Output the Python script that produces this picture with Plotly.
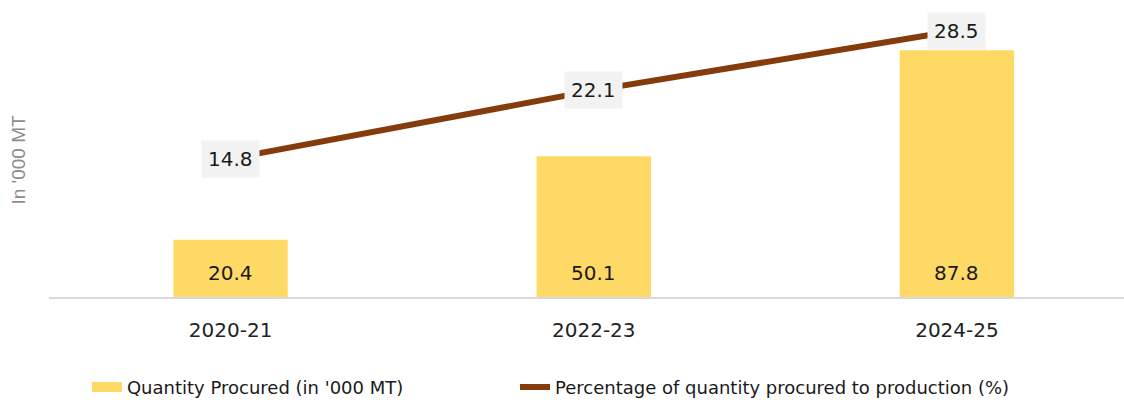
import plotly.graph_objects as go

years = ["2020-21", "2022-23", "2024-25"]
quantity = [20.4, 50.1, 87.8]
percentage = [14.8, 22.1, 28.5]

bar_name = "Quantity Procured (in '000 MT)"
line_name = "Percentage of quantity procured to production (%)"

YELLOW = "#FFD966"
BROWN = "#843C0C"
FONT = "DejaVu Sans"

fig = go.Figure()

fig.add_trace(go.Bar(
    x=years, y=quantity, name=bar_name, showlegend=False, legendgroup="q",
    marker=dict(color=YELLOW, line=dict(width=0)),
    width=0.315,
))
# legend swatch for the bars (wide flat rectangle like the original)
fig.add_trace(go.Scatter(
    x=[None], y=[None], name=bar_name, legendgroup="q", mode="lines",
    line=dict(color=YELLOW, width=10), legend="legend",
))

fig.add_trace(go.Scatter(
    x=years, y=percentage, name=line_name, yaxis="y2",
    mode="lines", line=dict(color=BROWN, width=6), legend="legend2",
))

annotations = []
# bar values, near the bottom of each bar
for yr, q in zip(years, quantity):
    annotations.append(dict(
        x=yr, y=0, xref="x", yref="y", text=f"{q}", showarrow=False,
        yanchor="middle", yshift=24,
        font=dict(family=FONT, size=20, color="#1a1a1a"),
    ))
# line values in grey boxes
for yr, p in zip(years, percentage):
    annotations.append(dict(
        x=yr, y=p, xref="x", yref="y2", text=f"{p}", showarrow=False,
        bgcolor="#F2F2F2", borderpad=6,
        font=dict(family=FONT, size=20, color="#1a1a1a"),
    ))
# axis title
annotations.append(dict(
    x=0, y=0.477, xref="paper", yref="paper", xshift=-43, textangle=-90,
    text="In '000 MT", showarrow=False,
    font=dict(family="Liberation Sans", size=19, color="#8c8c8c"),
))

legend_style = dict(
    orientation="h", xanchor="left", yref="container", y=0.032, yanchor="middle",
    font=dict(size=18, color="#1a1a1a"), itemwidth=30,
)

fig.update_layout(
    width=1124, height=400,
    margin=dict(l=49, r=0, t=10, b=103),
    paper_bgcolor="white", plot_bgcolor="white",
    font=dict(family=FONT, size=16, color="#1a1a1a"),
    xaxis=dict(
        range=[-0.5, 2.46], automargin=False,
        showline=True, linecolor="#D9D9D9", linewidth=1.5,
        showgrid=False, ticks="", ticklabelstandoff=14,
        tickfont=dict(size=20, color="#222222"),
    ),
    yaxis=dict(
        range=[0, 102.1], showgrid=False, zeroline=False,
        showticklabels=False, automargin=False,
    ),
    yaxis2=dict(
        range=[0, 30.7], overlaying="y", side="right", automargin=False,
        showgrid=False, zeroline=False, showticklabels=False,
    ),
    legend=dict(x=0.0353, **legend_style),
    legend2=dict(x=0.4335, **legend_style),
    annotations=annotations,
)

fig.write_html("out.html", config={"displayModeBar": False},
               post_script="document.body.style.margin='0';")
